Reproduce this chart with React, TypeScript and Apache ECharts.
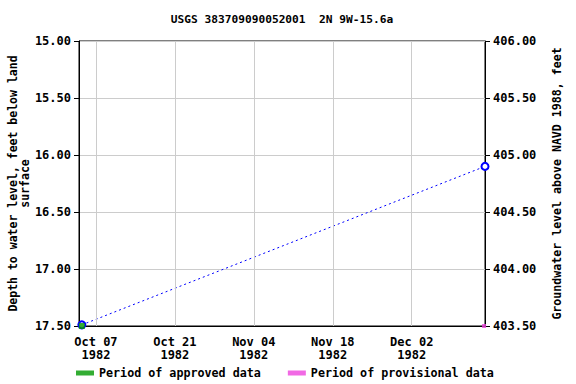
import React, { useEffect, useRef } from "react";
import * as echarts from "echarts";

const titleText = "USGS 383709090052001  2N 9W-15.6a";
const leftAxisName = "Depth to water level, feet below land\nsurface";
const rightAxisName = "Groundwater level above NAVD 1988, feet";

const axisStart = "1982-10-04T00:00:00Z";
const axisEnd = "1982-12-15T00:00:00Z";
const tickDates = ["1982-10-07", "1982-10-21", "1982-11-04", "1982-11-18", "1982-12-02"];
const tickLabels = ["Oct 07\n1982", "Oct 21\n1982", "Nov 04\n1982", "Nov 18\n1982", "Dec 02\n1982"];

const obsDates = ["1982-10-04T12:00:00Z", "1982-12-15T00:00:00Z"];
const depths = [17.49, 16.1];

const approvedDates = ["1982-10-04T12:00:00Z"];
const provisionalDates = ["1982-12-14T20:00:00Z"];

const depthMin = 15;
const depthMax = 17.5;
const elevMin = 403.5;
const elevMax = 406;

const FONT = "DejaVu Sans Mono";

const ts = (s: string) => new Date(s.length === 10 ? s + "T00:00:00Z" : s).getTime();

export default function App() {
  const ref = useRef<HTMLDivElement>(null);
  useEffect(() => {
    if (!ref.current) return;
    const chart = echarts.init(ref.current, undefined, { renderer: "svg" });
    const tickTs = tickDates.map(ts);
    const labelFor = (v: number) => {
      const i = tickTs.findIndex((t) => Math.abs(t - v) < 3600000);
      return i >= 0 ? tickLabels[i] : "";
    };
    const textStyle = { fontFamily: FONT, fontWeight: "bold" as const, fontSize: 12, color: "#000" };
    chart.setOption({
      animation: false,
      backgroundColor: "#fff",
      graphic: [
        {
          type: "text",
          x: 282,
          y: 19,
          style: {
            text: titleText,
            textAlign: "center",
            textVerticalAlign: "middle",
            font: `bold 11.2px "${FONT}"`,
            fill: "#000",
          },
        },
      ],
      grid: {
        left: 79,
        right: 91,
        top: 41,
        bottom: 58,
        containLabel: false,
        outerBoundsMode: "none",
        show: true,
        borderColor: "#000",
        borderWidth: 1,
        backgroundColor: "transparent",
      },
      legend: {
        left: 71,
        top: 362,
        itemWidth: 18,
        itemHeight: 5,
        itemGap: 27,
        icon: "rect",
        textStyle: { ...textStyle, fontSize: 11.7 },
        data: ["Period of approved data", "Period of provisional data"],
      },
      xAxis: {
        type: "value",
        min: ts(axisStart),
        max: ts(axisEnd),
        axisLine: { show: true, lineStyle: { color: "#000", width: 1 } },
        axisTick: { show: false },
        splitLine: { show: false },
        axisLabel: {
          customValues: tickTs,
          formatter: (v: number) => labelFor(v),
          ...textStyle,
          lineHeight: 13,
          margin: 9,
          hideOverlap: false,
        },
      },
      yAxis: [
        {
          type: "value",
          inverse: true,
          min: depthMin,
          max: depthMax,
          interval: 0.5,
          position: "left",
          name: leftAxisName,
          nameLocation: "middle",
          nameGap: 48,
          nameMoveOverlap: false,
          nameRotate: 90,
          nameTextStyle: { ...textStyle, fontSize: 11.5, lineHeight: 12 },
          axisLine: { show: true, lineStyle: { color: "#000", width: 1 } },
          axisTick: { show: true, inside: false, length: 5, lineStyle: { color: "#000" } },
          splitLine: { show: true, lineStyle: { color: "#cccccc", width: 1 } },
          axisLabel: { ...textStyle, margin: 8, formatter: (v: number) => v.toFixed(2) },
        },
        {
          type: "value",
          min: elevMin,
          max: elevMax,
          interval: 0.5,
          position: "right",
          name: rightAxisName,
          nameLocation: "middle",
          nameGap: 66,
          nameRotate: 90,
          nameTextStyle: { ...textStyle, fontSize: 11.6 },
          axisLine: { show: true, lineStyle: { color: "#000", width: 1 } },
          axisTick: { show: true, inside: false, length: 5, lineStyle: { color: "#000" } },
          splitLine: { show: false },
          axisLabel: { ...textStyle, margin: 8, formatter: (v: number) => v.toFixed(2) },
        },
      ],
      series: [
        {
          name: "grid",
          type: "line",
          data: [],
          z: 1,
          silent: true,
          markLine: {
            silent: true,
            symbol: ["none", "none"],
            label: { show: false },
            lineStyle: { color: "#cccccc", type: "solid", width: 1 },
            data: tickTs.map((t) => ({ xAxis: t })),
          },
        },
        {
          name: "levels",
          type: "line",
          data: obsDates.map((d, i) => [ts(d), depths[i]]),
          symbol: "emptyCircle",
          symbolSize: 7,
          showAllSymbol: true,
          clip: false,
          z: 3,
          lineStyle: { color: "#0000ff", width: 1, type: [2, 3] },
          itemStyle: { color: "#0000ff", borderColor: "#0000ff", borderWidth: 1 },
        },
        {
          name: "Period of approved data",
          type: "scatter",
          data: approvedDates.map((d) => [ts(d), depthMax]),
          symbol: "rect",
          symbolSize: 6,
          clip: false,
          z: 5,
          itemStyle: { color: "#009900" },
        },
        {
          name: "Period of provisional data",
          type: "scatter",
          data: provisionalDates.map((d) => [ts(d), depthMax]),
          symbol: "rect",
          symbolSize: 4,
          clip: false,
          z: 5,
          itemStyle: { color: "#ee44dd" },
        },
        {
          name: "elev",
          type: "line",
          yAxisIndex: 1,
          data: [],
        },
      ],
    });
    return () => chart.dispose();
  }, []);
  return <div ref={ref} style={{ width: 576, height: 384, position: "absolute", left: 0, top: 0 }} />;
}
